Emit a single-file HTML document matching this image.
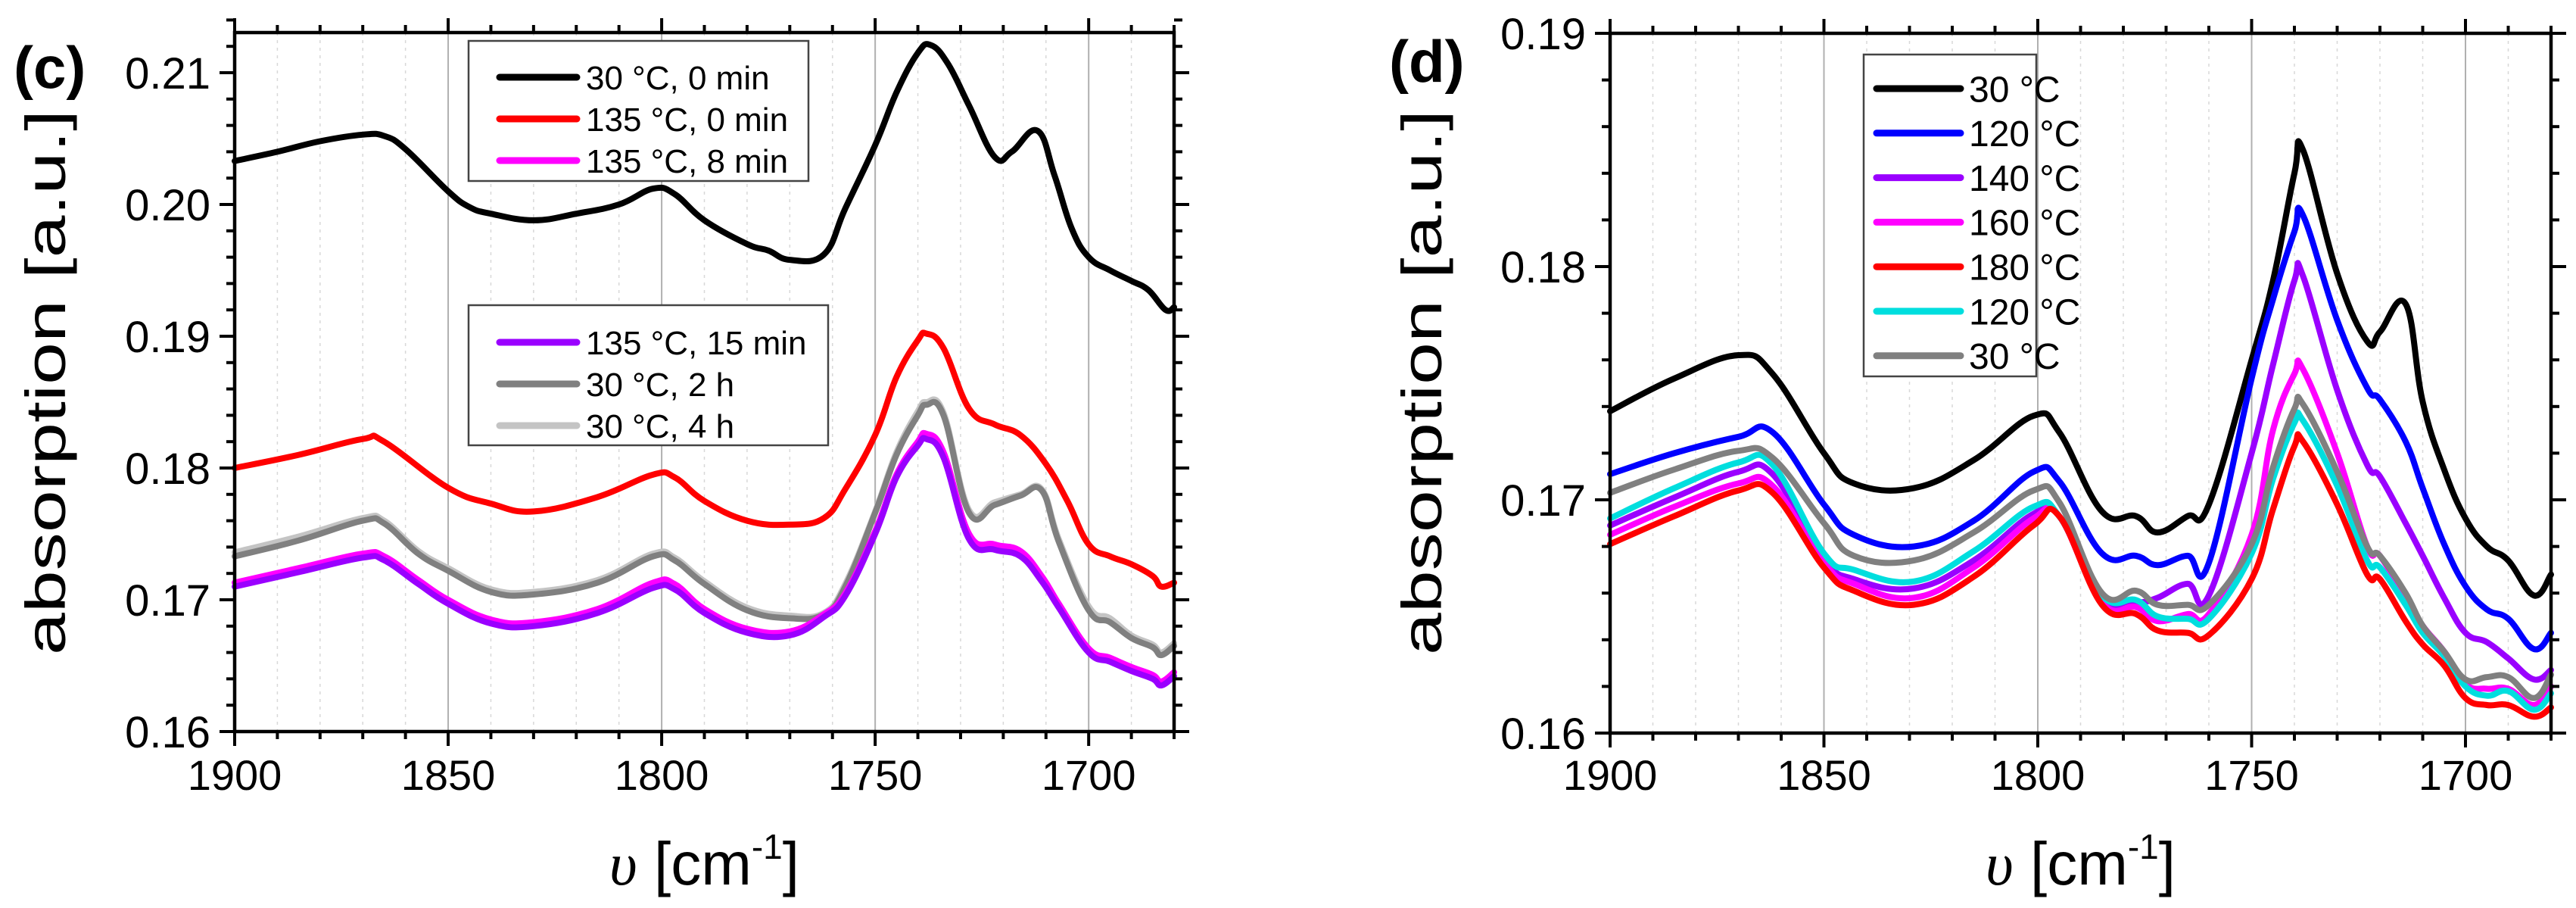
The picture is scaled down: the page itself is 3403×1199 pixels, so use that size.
<!DOCTYPE html>
<html><head><meta charset="utf-8"><style>
html,body{margin:0;padding:0;background:#fff;}
svg{display:block;font-family:"Liberation Sans",Arial,sans-serif;}
</style></head><body>
<svg id="chart" xmlns="http://www.w3.org/2000/svg" width="3403" height="1199" viewBox="0 0 3403 1199">
<rect width="3403" height="1199" fill="#fff"/>
</svg>
<script>
// ---- Panel (c) data ----
const cXBlack = [1900,1890,1880,1870,1865,1860,1850,1845,1840,1830,1820,1810,1802,1797,1790,1780,1775,1770,1762,1757,1750,1745,1740,1737,1733,1728,1722,1718,1712,1708,1704,1700,1695,1690,1686,1682,1680];
const c30_0min = [.2033,.2040,.2048,.2053,.2052,.2042,.2010,.1998,.1993,.1988,.1993,.2000,.2012,.2008,.1988,.1970,.1965,.1958,.1962,.1997,.2045,.2085,.2115,.2121,.2107,.2075,.2036,.2040,.2056,.2022,.1982,.1960,.1950,.1942,.1935,.1920,.1922];
const cXRed = [1900,1885,1870,1865,1850,1840,1830,1815,1802,1797,1790,1780,1770,1762,1757,1750,1745,1740,1738,1734,1728,1722,1716,1710,1705,1700,1695,1690,1685,1683,1680];
const c135_0min = [.1800,.1810,.1822,.1820,.1785,.1773,.1767,.1778,.1795,.1793,.1775,.1760,.1757,.1762,.1784,.1825,.1869,.1897,.1902,.1891,.1845,.1833,.1825,.1803,.1775,.1742,.1733,.1727,.1718,.1710,.1713];
const cXLow = [1900,1885,1870,1865,1857,1850,1840,1830,1815,1802,1797,1790,1780,1770,1762,1757,1750,1745,1740,1738,1734,1728,1722,1716,1711,1707,1700,1695,1690,1685,1683,1680];
const c135_8min = [.1713,.1724,.1735,.1733,.1715,.1700,.1685,.1683,.1693,.1713,.1712,.1693,.1678,.1676,.1689,.1705,.1752,.1795,.1820,.1826,.1812,.1750,.1742,.1737,.1718,.1697,.1663,.1656,.1649,.1643,.1638,.1645];
const c135_15min = [.1710,.1721,.1732,.1730,.1712,.1697,.1682,.1680,.1690,.1709,.1708,.1690,.1675,.1673,.1687,.1703,.1750,.1793,.1817,.1822,.1808,.1746,.1738,.1733,.1714,.1694,.1660,.1653,.1646,.1640,.1635,.1642];
const c30_2h = [.1733,.1745,.1760,.1758,.1735,.1722,.1706,.1704,.1713,.1733,.1730,.1712,.1692,.1686,.1689,.1710,.1766,.1810,.1840,.1848,.1840,.1766,.1772,.1779,.1783,.1744,.1692,.1683,.1671,.1664,.1658,.1665];
const c30_4h = [.1736,.1748,.1762,.1760,.1737,.1724,.1708,.1706,.1715,.1735,.1732,.1714,.1694,.1688,.1690,.1712,.1767,.1812,.1843,.1850,.1842,.1768,.1774,.1780,.1784,.1746,.1695,.1686,.1673,.1666,.1660,.1667];
const cYTicks = ["0.16","0.17","0.18","0.19","0.20","0.21"];
const xTickLabels = ["1900","1850","1800","1750","1700"];

// ---- Panel (d) data ----
const dX = [1900,1885,1870,1862,1850,1843,1829,1815,1801,1795,1785,1777,1772,1765,1760,1750,1745,1740,1738,1730,1723,1720,1714,1710,1705,1700,1695,1690,1684,1680];
const d30a = [.1738,.1752,.1762,.1754,.1720,.1707,.1705,.1717,.1736,.1729,.1695,.1693,.1686,.1693,.1698,.1760,.1794,.1840,.1850,.1797,.1768,.1772,.1784,.1742,.1713,.1692,.1680,.1674,.1659,.1668];
const d120a = [.1711,.1720,.1727,.1729,.1698,.1685,.1680,.1691,.1712,.1708,.1677,.1676,.1672,.1676,.1673,.1752,.1786,.1815,.1822,.1777,.1748,.1743,.1725,.1705,.1681,.1663,.1653,.1649,.1636,.1643];
const d140 = [.1689,.1701,.1712,.1711,.1675,.1666,.1662,.1674,.1694,.1693,.1658,.1656,.1658,.1664,.1659,.1720,.1758,.1794,.1796,.1747,.1715,.1710,.1690,.1676,.1658,.1643,.1639,.1632,.1623,.1627];
const d160 = [.1685,.1697,.1707,.1706,.1673,.1664,.1658,.1671,.1692,.1693,.1656,.1654,.1648,.1651,.1651,.1685,.1730,.1754,.1756,.1720,.1680,.1676,.1658,.1646,.1635,.1621,.1619,.1619,.1612,.1620];
const d180 = [.1681,.1693,.1704,.1703,.1671,.1661,.1655,.1667,.1689,.1693,.1655,.1651,.1644,.1643,.1642,.1666,.1696,.1723,.1725,.1698,.1668,.1666,.1648,.1638,.1629,.1615,.1612,.1612,.1607,.1611];
const d120b = [.1692,.1705,.1716,.1715,.1677,.1670,.1665,.1678,.1697,.1693,.1659,.1657,.1650,.1649,.1649,.1677,.1709,.1733,.1734,.1706,.1674,.1671,.1655,.1643,.1633,.1620,.1616,.1618,.1610,.1617];
const d30b = [.1703,.1713,.1721,.1718,.1690,.1676,.1674,.1686,.1704,.1699,.1660,.1661,.1655,.1655,.1655,.1681,.1714,.1739,.1741,.1712,.1680,.1676,.1660,.1646,.1635,.1623,.1624,.1624,.1615,.1625];
const dYTicks = ["0.16","0.17","0.18","0.19"];

const NS = "http://www.w3.org/2000/svg";
const svg = document.getElementById('chart');
function mk(tag, attrs, parent){
  const e = document.createElementNS(NS, tag);
  for (const k in attrs) e.setAttribute(k, attrs[k]);
  (parent||svg).appendChild(e);
  return e;
}
function smoothPath(pts){
  let d = 'M' + pts[0][0].toFixed(1) + ',' + pts[0][1].toFixed(1);
  for (let i = 0; i < pts.length - 1; i++) {
    const p0 = pts[Math.max(0, i-1)], p1 = pts[i], p2 = pts[i+1], p3 = pts[Math.min(pts.length-1, i+2)];
    const t = 0.2;
    const c1x = p1[0] + (p2[0]-p0[0])*t, c1y = p1[1] + (p2[1]-p0[1])*t;
    const c2x = p2[0] - (p3[0]-p1[0])*t, c2y = p2[1] - (p3[1]-p1[1])*t;
    d += 'C' + c1x.toFixed(1) + ',' + c1y.toFixed(1) + ' ' + c2x.toFixed(1) + ',' + c2y.toFixed(1) + ' ' + p2[0].toFixed(1) + ',' + p2[1].toFixed(1);
  }
  return d;
}

function panel(cfg){
  const g = mk('g', {});
  
  
  const sx = v => cfg.x0 + (cfg.xmax - v) / (cfg.xmax - cfg.xmin) * (cfg.x1 - cfg.x0);
  const sy = v => cfg.y0 - (v - cfg.ymin) / (cfg.ymax - cfg.ymin) * (cfg.y0 - cfg.y1);
  for (let w = 1900; w >= cfg.xmin; w -= 10) {
    const major = (w % 50 === 0);
    const l = mk('line', {x1:sx(w), x2:sx(w), y1:cfg.y1, y2:cfg.y0,
      stroke: major ? '#b0b0b0' : '#d8d8d8', 'stroke-width': major ? 2 : 1.5,
      'stroke-dasharray': major ? 'none' : '4 6'}, g);
    
    
  }
  cfg.series.forEach(s => {
    const pts = s.x.map((xv, i) => [sx(xv), sy(s.y[i])]);
    const p = mk('path', {d:smoothPath(pts), fill:'none', stroke:s.color, 'stroke-width':8, 'stroke-linejoin':'round', 'stroke-linecap':'round'}, g);
    
    
  });
  const fr = mk('rect', {x:cfg.x0, y:cfg.y1, width:cfg.x1-cfg.x0, height:cfg.y0-cfg.y1, fill:'none', stroke:'#000', 'stroke-width':4.5}, g);
  
  
  for (let w = 1900; w >= cfg.xmin; w -= 10) {
    const major = (w % 50 === 0); const L = major ? 19 : 10;
    mk('line', {x1:sx(w), x2:sx(w), y1:cfg.y0, y2:cfg.y0+L, stroke:'#000', 'stroke-width':4}, g);
    mk('line', {x1:sx(w), x2:sx(w), y1:cfg.y1, y2:cfg.y1-L, stroke:'#000', 'stroke-width':4}, g);
  }
  xTickLabels.forEach(t => {
    const tx = mk('text', {x:sx(+t), y:1043, 'font-size':56, 'text-anchor':'middle', fill:'#000'}, g);
    tx.textContent = t;
    
    
  });
  const steps = Math.round((cfg.ymax - cfg.ymin) / 0.002);
  for (let i = 0; i <= steps; i++) {
    const v = cfg.ymin + i * 0.002; const major = (i % 5 === 0); const L = major ? 20 : 11;
    mk('line', {x1:cfg.x0-L, x2:cfg.x0, y1:sy(v), y2:sy(v), stroke:'#000', 'stroke-width':4}, g);
    mk('line', {x1:cfg.x1, x2:cfg.x1+L, y1:sy(v), y2:sy(v), stroke:'#000', 'stroke-width':4}, g);
  }
  cfg.yTicks.forEach(t => {
    const tx = mk('text', {x:cfg.x0-32, y:sy(+t)+21, 'font-size':58, 'text-anchor':'end', fill:'#000'}, g);
    tx.textContent = t;
    
    
  });
  const yt = mk('text', {x:0, y:0, 'font-size':74, 'text-anchor':'middle', fill:'#000',
    transform:'translate(' + cfg.yTitleX + ',505) rotate(-90)', textLength:720, lengthAdjust:'spacingAndGlyphs'}, g);
  yt.textContent = 'absorption [a.u.]';
  
  
  const xc = (cfg.x0 + cfg.x1) / 2;
  const xt = mk('text', {x:xc, y:1168, 'font-size':80, 'text-anchor':'middle', fill:'#000'}, g);
  xt.innerHTML = '<tspan font-family="Liberation Serif" font-style="italic">υ</tspan> [cm<tspan font-size="46" dy="-34">-1</tspan><tspan dy="34">]</tspan>';
  
  
  const pl = mk('text', {x:cfg.letterX, y:cfg.letterY, 'font-size':78, 'font-weight':'bold', fill:'#000'}, g);
  pl.textContent = cfg.letter;
  
  
  cfg.legends.forEach(lg => {
    const lgG = mk('g', {}, g);
    
    
    const b = mk('rect', {x:lg.x, y:lg.y, width:lg.w, height:lg.h, fill:'#fff', stroke:'#444', 'stroke-width':2.5}, lgG);
    
    
    lg.items.forEach((it, i) => {
      const yy = lg.ey0 + i * lg.dy;
      const ln = mk('line', {x1:lg.lx0, x2:lg.lx1, y1:yy, y2:yy, stroke:it.color, 'stroke-width':9, 'stroke-linecap':'round'}, lgG);
      
      
      const t = mk('text', {x:lg.tx, y:yy + lg.fs*0.36, 'font-size':lg.fs, fill:'#000'}, lgG);
      t.textContent = it.label;
      
      
    });
  });
}

panel({
  name:'panel-c', letter:'(c)', letterX:18, letterY:116, yTitleX:86,
  x0:310, x1:1551, y0:966, y1:43, xmin:1680, xmax:1900, ymin:0.16, ymax:0.16+(966-43)/17400,
  yTicks:cYTicks,
  series:[
    {id:'series-30C-0min', color:'#000000', x:cXBlack, y:c30_0min},
    {id:'series-135C-0min', color:'#ff0000', x:cXRed, y:c135_0min},
    {id:'series-30C-4h', color:'#c4c4c4', x:cXLow, y:c30_4h},
    {id:'series-30C-2h', color:'#808080', x:cXLow, y:c30_2h},
    {id:'series-135C-8min', color:'#ff00ff', x:cXLow, y:c135_8min},
    {id:'series-135C-15min', color:'#9a00ff', x:cXLow, y:c135_15min}
  ],
  legends:[
    {x:619, y:54, w:449, h:185, ey0:102, dy:55, lx0:660, lx1:762, tx:774, fs:44,
     items:[{label:'30 °C, 0 min', color:'#000'},{label:'135 °C, 0 min', color:'#ff0000'},{label:'135 °C, 8 min', color:'#ff00ff'}]},
    {x:619, y:403, w:475, h:185, ey0:452, dy:55, lx0:660, lx1:762, tx:774, fs:44,
     items:[{label:'135 °C, 15 min', color:'#9a00ff'},{label:'30 °C, 2 h', color:'#808080'},{label:'30 °C, 4 h', color:'#c4c4c4'}]}
  ]
});

panel({
  name:'panel-d', letter:'(d)', letterX:1835, letterY:108, yTitleX:1904,
  x0:2127, x1:3370, y0:968, y1:44, xmin:1680, xmax:1900, ymin:0.16, ymax:0.19,
  yTicks:dYTicks,
  series:[
    {id:'series-30C-a', color:'#000000', x:dX, y:d30a},
    {id:'series-120C-a', color:'#0000ff', x:dX, y:d120a},
    {id:'series-140C', color:'#9a00ff', x:dX, y:d140},
    {id:'series-160C', color:'#ff00ff', x:dX, y:d160},
    {id:'series-120C-b', color:'#00dede', x:dX, y:d120b},
    {id:'series-30C-b', color:'#808080', x:dX, y:d30b},
    {id:'series-180C', color:'#ff0000', x:dX, y:d180}
  ],
  legends:[
    {x:2462, y:72, w:228, h:425, ey0:117, dy:58.8, lx0:2479, lx1:2590, tx:2601, fs:48,
     items:[{label:'30 °C', color:'#000'},{label:'120 °C', color:'#0000ff'},{label:'140 °C', color:'#9a00ff'},{label:'160 °C', color:'#ff00ff'},{label:'180 °C', color:'#ff0000'},{label:'120 °C', color:'#00dede'},{label:'30 °C', color:'#808080'}]}
  ]
});
</script>
</body></html>
